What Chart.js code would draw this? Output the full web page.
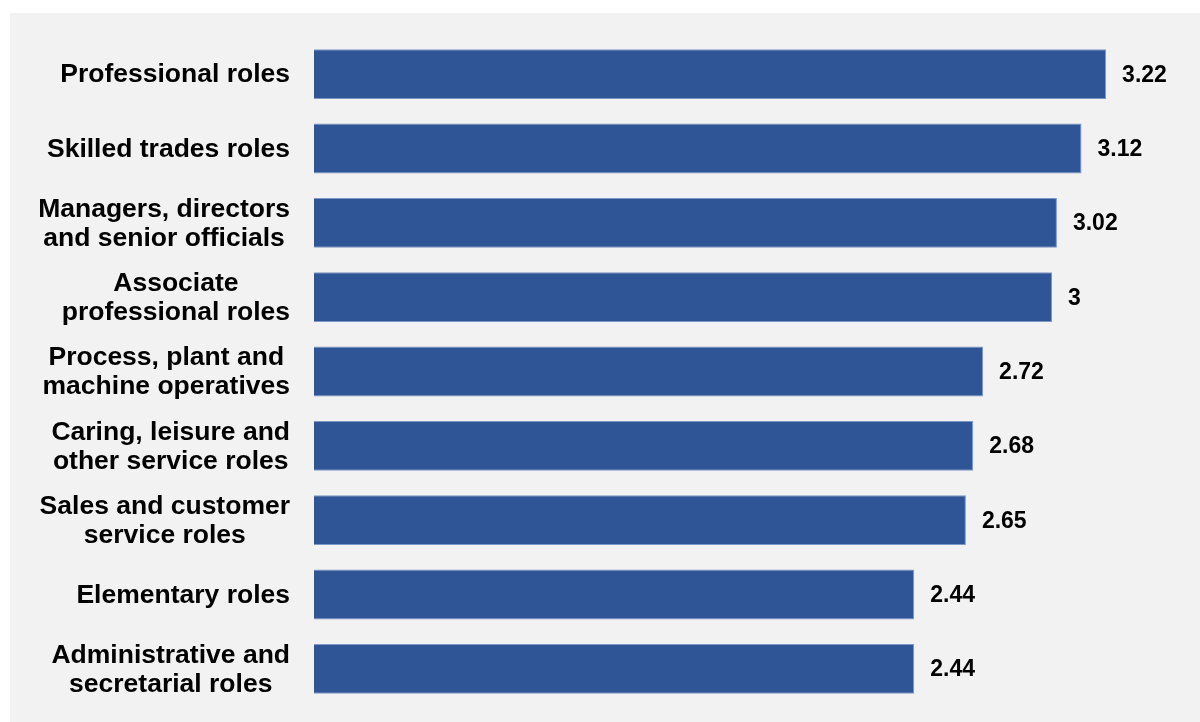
<!DOCTYPE html>
<html>
<head>
<meta charset="utf-8">
<script src="https://cdn.jsdelivr.net/npm/chart.js@4/dist/chart.umd.min.js"></script>
<style>
  html, body { margin: 0; padding: 0; background: #ffffff; }
  #panel {
    position: absolute; left: 10px; top: 13px;
    width: 1190px; height: 709px;
    background: #f2f2f2;
  }
  #chart { display: block; }
</style>
</head>
<body>
<div id="panel"><canvas id="chart" width="1190" height="709"></canvas></div>
<script>
// Occupation groups, top to bottom
const roleLabels = [
  ['Professional roles'],
  ['Skilled trades roles'],
  ['Managers, directors', 'and senior officials'],
  ['Associate', 'professional roles'],
  ['Process, plant and', 'machine operatives'],
  ['Caring, leisure and', 'other service roles'],
  ['Sales and customer', 'service roles'],
  ['Elementary roles'],
  ['Administrative and', 'secretarial roles'],
];

const roleScores = [3.22, 3.12, 3.02, 3, 2.72, 2.68, 2.65, 2.44, 2.44];

const xMin = 0;
const xMax = 3.5;

const BAR_BLUE = '#2f5597';
const LABEL_FONT = 'bold 26.5px "Liberation Sans", Arial, sans-serif';
const VALUE_FONT = 'bold 23px "Liberation Sans", Arial, sans-serif';

// Category names: right edge flush to the axis, lines centred on each other
const roleLabelPlugin = {
  id: 'roleLabels',
  afterDraw(chart) {
    const { ctx } = chart;
    const yScale = chart.scales.y;
    const lineH = 29;
    ctx.save();
    ctx.font = LABEL_FONT;
    ctx.fillStyle = '#000000';
    ctx.textAlign = 'center';
    ctx.textBaseline = 'middle';
    roleLabels.forEach((lines, i) => {
      const yMid = yScale.getPixelForTick(i) + 1;
      const maxW = Math.max(...lines.map(l => ctx.measureText(l).width));
      const cx = yScale.right - 24 - maxW / 2;
      lines.forEach((line, j) => {
        ctx.fillText(line, cx, yMid + (j - (lines.length - 1) / 2) * lineH);
      });
    });
    ctx.restore();
  },
};

// Value at the end of each bar
const barValuePlugin = {
  id: 'barValues',
  afterDatasetsDraw(chart) {
    const { ctx } = chart;
    const meta = chart.getDatasetMeta(0);
    ctx.save();
    ctx.font = VALUE_FONT;
    ctx.fillStyle = '#000000';
    ctx.textAlign = 'left';
    ctx.textBaseline = 'middle';
    meta.data.forEach((bar, i) => {
      ctx.fillText(String(roleScores[i]), bar.x + 16, bar.y + 1);
    });
    ctx.restore();
  },
};

new Chart(document.getElementById('chart'), {
  type: 'bar',
  data: {
    labels: roleLabels,
    datasets: [{
      data: roleScores,
      backgroundColor: BAR_BLUE,
      borderColor: '#7d97c6',
      borderWidth: 1,
      barPercentage: 0.67,
      categoryPercentage: 1,
    }],
  },
  options: {
    indexAxis: 'y',
    responsive: false,
    animation: false,
    layout: { padding: { top: 24, bottom: 16, left: 0, right: 25 } },
    plugins: {
      legend: { display: false },
      tooltip: { enabled: false },
    },
    scales: {
      x: {
        display: false,
        min: xMin,
        max: xMax,
      },
      y: {
        grid: { display: false },
        border: { display: false },
        ticks: { display: false },
        afterFit(scale) { scale.width = 304; },
      },
    },
  },
  plugins: [roleLabelPlugin, barValuePlugin],
});
</script>
</body>
</html>
